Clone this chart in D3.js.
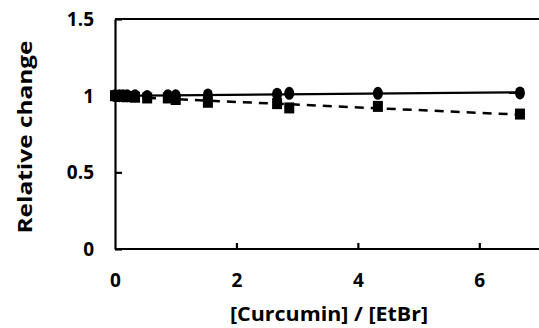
<!DOCTYPE html>
<html>
<head>
<meta charset="utf-8">
<script src="https://cdn.jsdelivr.net/npm/d3@7"></script>
<style>
html,body{margin:0;padding:0;background:#fff;}
svg{display:block;}
text{font-family:"Open Sans","Noto Sans",sans-serif;font-weight:bold;fill:#000;}
</style>
</head>
<body>
<svg id="chart" width="539" height="328"></svg>
<script>
const ratio = [0, 0.07, 0.13, 0.2, 0.33, 0.53, 0.87, 1.0, 1.53, 2.67, 2.87, 4.33, 6.67];
const circleSeries = [1.0, 1.0, 1.0, 1.0, 1.0, 0.995, 1.0, 1.0, 1.005, 1.01, 1.015, 1.015, 1.018];
const squareSeries = [1.0, 0.998, 0.995, 0.993, 0.99, 0.985, 0.985, 0.975, 0.957, 0.948, 0.92, 0.93, 0.88];
const xTicks = [0, 2, 4, 6];
const yTicks = [0, 0.5, 1, 1.5];
const yTickLabels = ["0", "0.5", "1", "1.5"];
const xTitle = "[Curcumin] / [EtBr]";
const yTitle = "Relative change";

const svg = d3.select("#chart");
const x = d3.scaleLinear().domain([0, 7]).range([115, 540]);
const y = d3.scaleLinear().domain([0, 1.5]).range([249, 19]);

function fit(xs, ys) {
  const mx = d3.mean(xs), my = d3.mean(ys);
  let num = 0, den = 0;
  xs.forEach((v, i) => { num += (v - mx) * (ys[i] - my); den += (v - mx) * (v - mx); });
  const b = num / den, a = my - b * mx;
  return [[xs[0], a + b * xs[0]], [xs[xs.length - 1], a + b * xs[xs.length - 1]]];
}

// frame (top border)
svg.append("line").attr("x1", x(0)).attr("x2", 539).attr("y1", y(1.5)).attr("y2", y(1.5))
  .attr("stroke", "#000").attr("stroke-width", 2.2);

// axes
const xAxis = d3.axisBottom(x).tickValues(xTicks).tickSizeInner(-6).tickSizeOuter(0).tickFormat(d3.format("d"));
const gx = svg.append("g").attr("transform", `translate(0,${y(0)})`).call(xAxis)
  .attr("font-size", null).attr("font-family", null);
gx.select(".domain").attr("stroke-width", 2.2).attr("d", `M${x(0)},0H539`);
gx.selectAll(".tick line").attr("stroke-width", 2.2);
gx.selectAll(".tick").filter(d => d === 0).select("line").remove();
gx.selectAll(".tick text").style("font-size", "19px").attr("dy", "0.35em").attr("y", 31);

const yAxis = d3.axisLeft(y).tickValues(yTicks).tickSizeInner(-7).tickSizeOuter(0)
  .tickFormat((d, i) => yTickLabels[i]);
const gy = svg.append("g").attr("transform", `translate(${x(0)},0)`).call(yAxis)
  .attr("font-size", null).attr("font-family", null);
gy.select(".domain").attr("stroke-width", 2.2);
gy.selectAll(".tick line").attr("stroke-width", 2.2);
gy.selectAll(".tick text").style("font-size", "19px").attr("x", -21).attr("dy", "0.35em");

// trend lines
const line = d3.line().x(d => x(d[0])).y(d => y(d[1]));
svg.append("path").attr("d", line(fit(ratio, circleSeries))).attr("fill", "none")
  .attr("stroke", "#000").attr("stroke-width", 2.2);
svg.append("path").attr("d", line(fit(ratio, squareSeries))).attr("fill", "none")
  .attr("stroke", "#000").attr("stroke-width", 2.5).attr("stroke-dasharray", "9,7");

// markers
svg.append("g").selectAll("ellipse").data(ratio).join("ellipse")
  .attr("cx", d => x(d)).attr("cy", (d, i) => y(circleSeries[i]))
  .attr("rx", 5).attr("ry", 6.5).attr("fill", "#000");
svg.append("g").selectAll("rect").data(ratio).join("rect")
  .attr("x", d => x(d) - 5).attr("y", (d, i) => y(squareSeries[i]) - 5.5)
  .attr("width", 10).attr("height", 11).attr("fill", "#000");

// titles
svg.append("text").attr("x", 329).attr("y", 321).attr("text-anchor", "middle")
  .style("font-size", "20px").attr("textLength", 198).attr("lengthAdjust", "spacingAndGlyphs").text(xTitle);
svg.append("text").attr("transform", "translate(32,137) rotate(-90)").attr("text-anchor", "middle")
  .style("font-size", "20px").attr("textLength", 193).attr("lengthAdjust", "spacingAndGlyphs").text(yTitle);
</script>
</body>
</html>
